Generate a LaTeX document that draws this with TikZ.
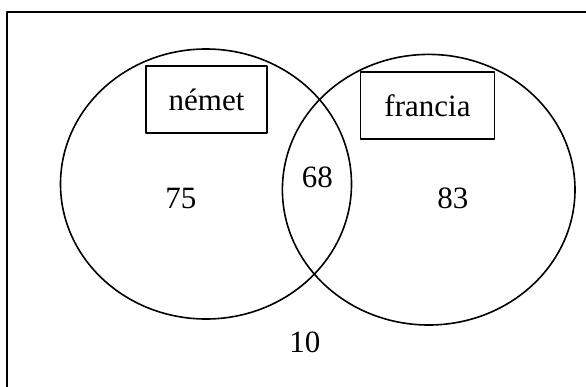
\documentclass[tikz,border=0pt]{standalone}
\usepackage{fontspec}
\setmainfont{Liberation Serif}
\begin{document}
\begin{tikzpicture}[x=0.5pt,y=-0.5pt,line join=round,line cap=round,
		font=\fontsize{15.5}{18}\selectfont,
		doboz/.style={draw,line width=0.8pt,inner sep=0pt,minimum height=33.6pt}]
		\useasboundingbox (0,0) rectangle (586,387);
		% keret
		\draw[line width=1pt,line cap=butt] (7.5,387)--(7.5,12)--(586,12);
		% halmazok
		\draw[line width=0.8pt] (206,184) ellipse (145.5 and 135);
		\draw[line width=0.8pt] (428.7,189.7) ellipse (146.3 and 135.3);
		\node[doboz,minimum width=60.5pt] (nemet) at (206.5,99.5) {német};
		\node[doboz,minimum width=67pt] (francia) at (427.5,105.5) {francia};
		\node (csaknemet) at (181,198) {75};
		\node (mindketto) at (317.5,177) {68};
		\node (csakfrancia) at (453,198) {83};
		\node (egyiksem) at (305,342) {10};
\end{tikzpicture}
\end{document}
